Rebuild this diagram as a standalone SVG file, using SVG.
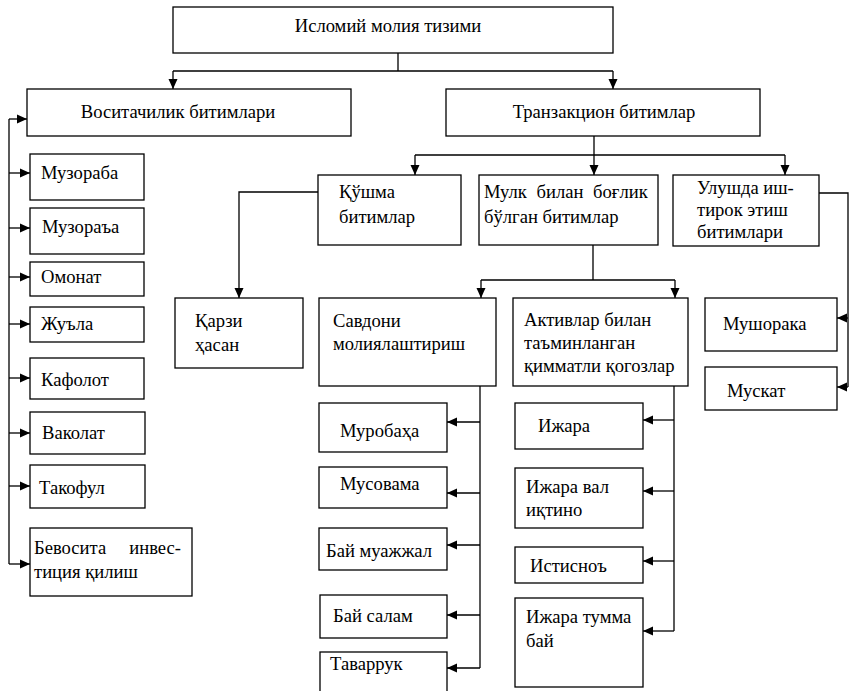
<svg xmlns="http://www.w3.org/2000/svg" width="849" height="691" viewBox="0 0 849 691">
<defs>
<marker id="arr" markerWidth="12" markerHeight="12" refX="10" refY="6" orient="auto" markerUnits="userSpaceOnUse">
<path d="M0,1.5 L10,6 L0,10.5 Z" fill="#000"/>
</marker>
<style>
rect{fill:#fff;stroke:#000;stroke-width:1.3}
text{font-family:"Liberation Serif","Times New Roman",serif;font-size:18.6px;fill:#000}
.c path{fill:none;stroke:#000;stroke-width:1.3}
.a{marker-end:url(#arr)}
</style>
</defs>
<rect x="0" y="0" width="849" height="691" style="stroke:none"/>

<g class="c" id="connectors">
<path d="M398 53 V71 M173 71 H613"/>
<path class="a" d="M173 71 V89"/>
<path class="a" d="M613 71 V89"/>
<path d="M9 119 V564"/>
<path class="a" d="M9 119 H27"/>
<path class="a" d="M9 173 H30"/>
<path class="a" d="M9 228 H30"/>
<path class="a" d="M9 277 H30"/>
<path class="a" d="M9 324 H30"/>
<path class="a" d="M9 378 H30"/>
<path class="a" d="M9 433 H30"/>
<path class="a" d="M9 486 H30"/>
<path class="a" d="M9 564 H30"/>
<path d="M594 136 V155 M415 155 H785"/>
<path class="a" d="M415 155 V175"/>
<path class="a" d="M594 155 V175"/>
<path class="a" d="M785 155 V175"/>
<path class="a" d="M318 192 H239 V298"/>
<path d="M819 193 H848 V387"/>
<path class="a" d="M848 318 H837"/>
<path class="a" d="M848 387 H837"/>
<path d="M593 245 V280 M481 280 H675"/>
<path class="a" d="M481 280 V298"/>
<path class="a" d="M675 280 V298"/>
<path d="M480 386 V668"/>
<path class="a" d="M480 422 H447"/>
<path class="a" d="M480 493 H447"/>
<path class="a" d="M480 545 H447"/>
<path class="a" d="M480 615 H447"/>
<path class="a" d="M480 668 H447"/>
<path d="M674 386 V631"/>
<path class="a" d="M674 420 H643"/>
<path class="a" d="M674 491 H643"/>
<path class="a" d="M674 561 H643"/>
<path class="a" d="M674 631 H643"/>
</g>

<g id="root"><rect x="173" y="7" width="440" height="46"/><text x="388" y="32" text-anchor="middle">Исломий молия тизими</text></g>
<g id="vositachilik"><rect x="27" y="89" width="324" height="47"/><text x="178" y="118" text-anchor="middle">Воситачилик битимлари</text></g>
<g id="tranzaksion"><rect x="446" y="89" width="314" height="47"/><text x="604" y="118" text-anchor="middle">Транзакцион битимлар</text></g>

<g id="muzoraba"><rect x="30" y="154" width="114" height="46"/><text x="41" y="179">Музораба</text></g>
<g id="muzoraa"><rect x="30" y="208" width="114" height="46"/><text x="42" y="233">Музораъа</text></g>
<g id="omonat"><rect x="30" y="262" width="114" height="34"/><text x="41" y="283">Омонат</text></g>
<g id="zhula"><rect x="30" y="307" width="114" height="35"/><text x="41" y="330">Жуъла</text></g>
<g id="kafolot"><rect x="30" y="358" width="114" height="41"/><text x="41" y="386">Кафолот</text></g>
<g id="vakolat"><rect x="30" y="412" width="115" height="42"/><text x="42" y="439">Ваколат</text></g>
<g id="takoful"><rect x="30" y="465" width="115" height="43"/><text x="39" y="494">Такофул</text></g>
<g id="bevosita"><rect x="30" y="528" width="162" height="68"/><text y="554"><tspan x="34">Бевосита</tspan><tspan x="181" text-anchor="end">инвес-</tspan><tspan x="34" y="578">тиция қилиш</tspan></text></g>

<g id="qarzi"><rect x="175" y="298" width="128" height="70"/><text x="195" y="327">Қарзи<tspan x="195" y="351">ҳасан</tspan></text></g>
<g id="qushma"><rect x="318" y="175" width="143" height="70"/><text x="339" y="198">Қўшма<tspan x="339" y="223">битимлар</tspan></text></g>
<g id="mulk"><rect x="479" y="175" width="179" height="70"/><text x="484" y="198" word-spacing="5">Мулк билан боғлик<tspan x="484" y="223" word-spacing="0">бўлган битимлар</tspan></text></g>
<g id="ulush"><rect x="673" y="175" width="146" height="71"/><text x="697" y="194">Улушда иш-<tspan x="697" y="216">тирок этиш</tspan><tspan x="697" y="238">битимлари</tspan></text></g>

<g id="savdoni"><rect x="319" y="298" width="177" height="88"/><text x="333" y="327">Савдони<tspan x="333" y="350">молиялаштириш</tspan></text></g>
<g id="aktivlar"><rect x="513" y="298" width="175" height="88"/><text x="524" y="326">Активлар билан<tspan x="524" y="349">таъминланган</tspan><tspan x="524" y="372">қимматли қогозлар</tspan></text></g>
<g id="mushoraka"><rect x="705" y="298" width="132" height="53"/><text x="723" y="330">Мушорака</text></g>
<g id="muskat"><rect x="705" y="367" width="132" height="43"/><text x="727" y="397">Мускат</text></g>

<g id="murobaha"><rect x="319" y="403" width="128" height="49"/><text x="340" y="437">Муробаҳа</text></g>
<g id="musovama"><rect x="319" y="467" width="128" height="41"/><text x="340" y="490">Мусовама</text></g>
<g id="muajjal"><rect x="319" y="528" width="128" height="42"/><text x="326" y="557">Бай муажжал</text></g>
<g id="salam"><rect x="320" y="595" width="127" height="43"/><text x="333" y="622">Бай салам</text></g>
<g id="tavarruk"><rect x="320" y="652" width="127" height="60"/><text x="330" y="670">Таваррук</text></g>

<g id="ijara"><rect x="515" y="403" width="128" height="46"/><text x="538" y="432">Ижара</text></g>
<g id="ijaravol"><rect x="515" y="468" width="128" height="60"/><text x="526" y="493">Ижара вал<tspan x="526" y="516">иқтино</tspan></text></g>
<g id="istisno"><rect x="515" y="547" width="128" height="36"/><text x="530" y="572">Истисноъ</text></g>
<g id="ijaratumma"><rect x="515" y="598" width="128" height="89"/><text x="526" y="623">Ижара тумма<tspan x="526" y="647">бай</tspan></text></g>
</svg>
